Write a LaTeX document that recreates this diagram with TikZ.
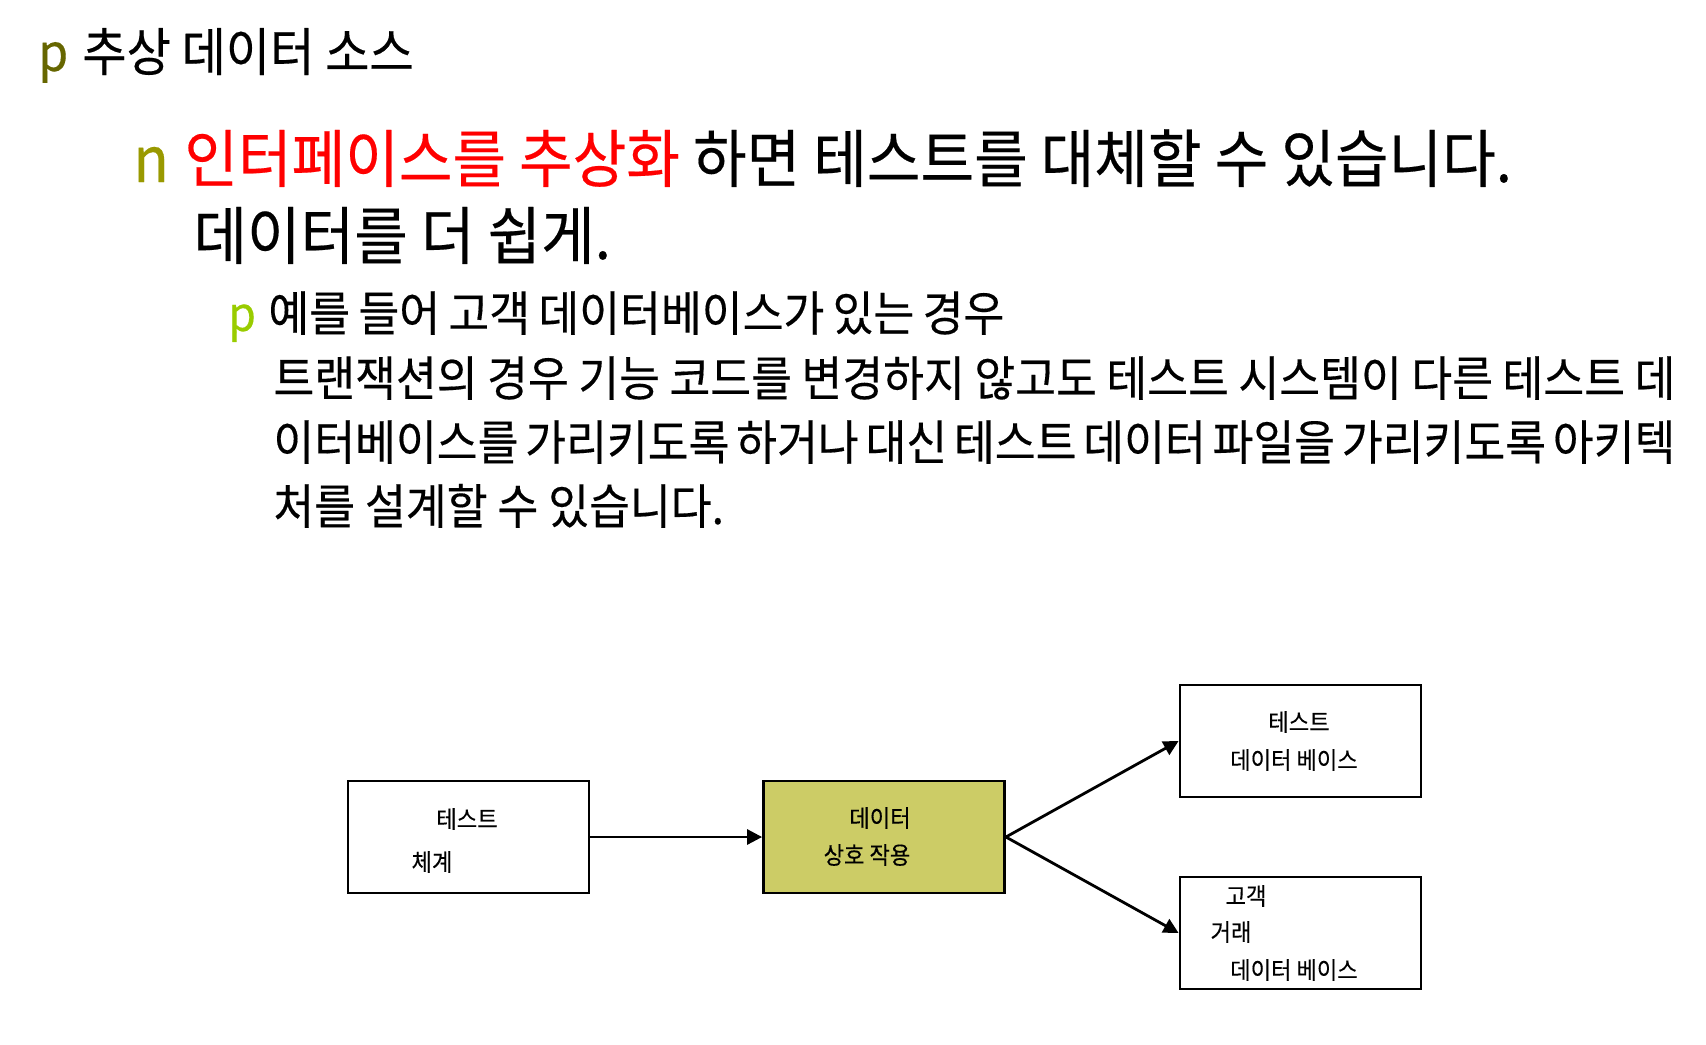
\documentclass[tikz,border=0pt]{standalone}
\usepackage{fontspec}
\newfontfamily\kr[FakeStretch=0.925,FakeBold=0.3]{Noto Sans CJK KR}
\usetikzlibrary{arrows.meta}
\definecolor{olivep}{HTML}{666600}
\definecolor{oliven}{HTML}{999900}
\definecolor{limep}{HTML}{99CC00}
\definecolor{boxfill}{HTML}{CCCC66}

\begin{document}
\begin{tikzpicture}[x=0.5pt,y=-0.5pt,
  box/.style={draw, line width=1.4pt, minimum width=120.5pt, minimum height=56pt, inner sep=0pt},
  lbl/.style={font=\kr\fontsize{12}{14}\selectfont, inner sep=0pt},
  big/.style={anchor=base west, inner sep=0pt, font=\kr\fontsize{31.5}{36}\selectfont},
  mid/.style={anchor=base west, inner sep=0pt, font=\kr\fontsize{26}{32}\selectfont},
  txt/.style={anchor=base west, inner sep=0pt, font=\kr\fontsize{24}{28}\selectfont},
  conn/.style={-{Triangle[length=7.5pt,width=7.5pt]}, line width=1.4pt}]
\useasboundingbox (0,0) rectangle (1706,1044);

\node[mid, text=olivep] (P1) at (38,71) {p};
\node[mid] (H1) at (82,71) {추상 데이터 소스};
\node[big, text=oliven] (N1) at (133,182) {n};
\node[big] (H2) at (184,182) {\textcolor{red}{인터페이스를 추상화} 하면 테스트를 대체할 수 있습니다.};
\node[big] (H3) at (193,259) {데이터를 더 쉽게.};
\node[txt, text=limep] (P2) at (228,331) {p};
\node[txt] (S1) at (268,331) {\makebox[368pt][s]{예를 들어 고객 데이터베이스가 있는 경우}};
\node[txt] (S2) at (273,396) {\makebox[701pt][s]{트랜잭션의 경우 기능 코드를 변경하지 않고도 테스트 시스템이 다른 테스트 데}};
\node[txt] (S3) at (273,460) {\makebox[701pt][s]{이터베이스를 가리키도록 하거나 대신 테스트 데이터 파일을 가리키도록 아키텍}};
\node[txt] (S4) at (273,524) {처를 설계할 수 있습니다.};

\node[box] (test) at (468.5,837) {};
\node[box, fill=boxfill] (inter) at (884,837) {};
\node[box] (testdb) at (1300.5,741) {};
\node[box] (custdb) at (1300.5,933) {};

\node[lbl] (T1) at (467,819) {테스트};
\node[lbl] (T2) at (432,862) {체계};
\node[lbl] (T3) at (880,818) {데이터};
\node[lbl] (T4) at (867,855) {상호 작용};
\node[lbl] (T5) at (1299,722) {테스트};
\node[lbl] (T6) at (1294,760) {데이터 베이스};
\node[lbl] (T7) at (1246,896) {고객};
\node[lbl] (T8) at (1231,932) {거래};
\node[lbl] (T9) at (1294,970) {데이터 베이스};

\draw[conn] (test) -- (inter);
\draw[conn] (inter.east) -- (testdb.west);
\draw[conn] (inter.east) -- (custdb.west);

\end{tikzpicture}
\end{document}
